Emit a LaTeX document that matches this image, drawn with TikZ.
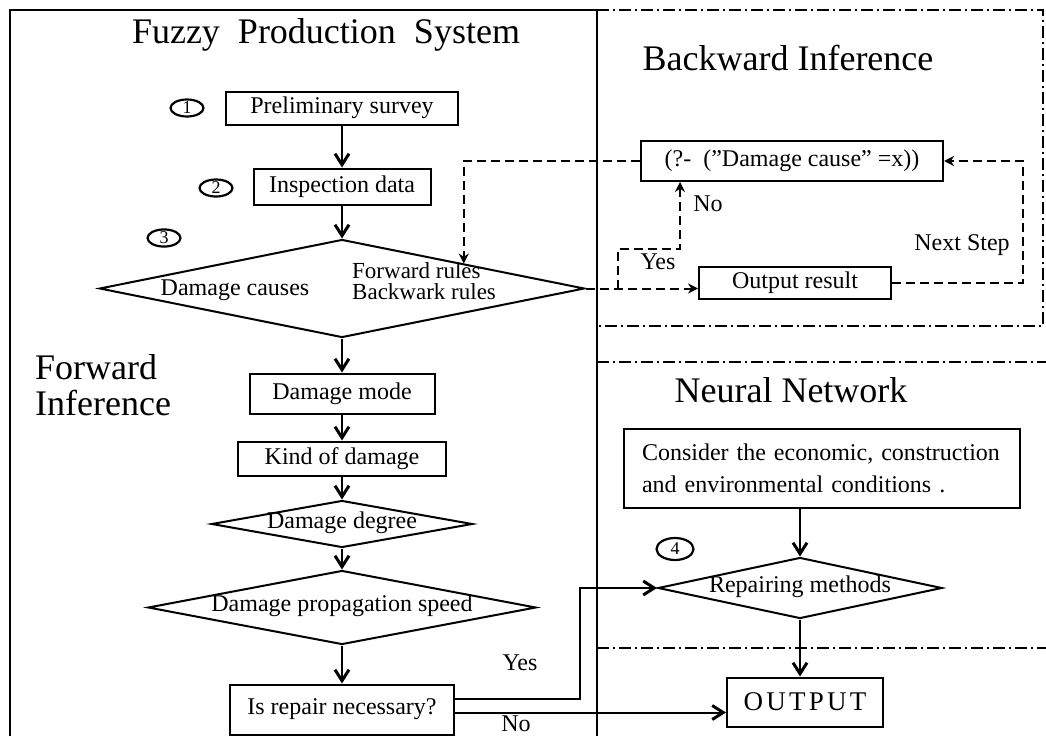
\documentclass[tikz,border=0pt]{standalone}
\usepackage{fontspec}
\setmainfont{Liberation Serif}
\usetikzlibrary{arrows.meta,positioning,shapes.geometric}
\tikzset{
  procbox/.style={
    draw=black,
    line width=2pt,
    align=center,
    inner sep=0pt,
    font=\fontsize{24}{26}\selectfont
  },
  decision/.style={
    draw=black,
    line width=2pt,
    diamond,
    aspect=5,
    inner sep=0pt,
    text height=12pt,
    text depth=4pt,
    font=\fontsize{24}{26}\selectfont
  },
  stepmark/.style={
    draw=black,
    line width=2.2pt,
    ellipse,
    inner sep=0pt,
    minimum width=33pt,
    minimum height=17pt,
    font=\fontsize{18}{18}\selectfont
  },
  bigtitle/.style={
    inner sep=0pt,
    font=\fontsize{36}{36}\selectfont
  },
  plaintext/.style={
    inner sep=0pt,
    font=\fontsize{24}{20}\selectfont
  },
  flow/.style={
    -{Straight Barb[length=11pt,width=14pt,line width=3pt]},
    line width=2pt
  },
  backflow/.style={
    -{Stealth[length=10pt,width=10pt]},
    line width=2pt,
    dash pattern=on 9pt off 5pt
  },
  panel/.style={
    line width=2.5pt
  },
  divider/.style={
    line width=1.8pt,
    dash pattern=on 12pt off 4pt on 2pt off 4pt
  }
}
\begin{document}
\begin{tikzpicture}[x=1pt,y=-1pt]
  \useasboundingbox (0,0) rectangle (1046,736);
  % frames
  \draw[panel] (10,736) -- (10,10) -- (597,10);
  \draw[panel] (597,10) -- (597,736);
  \draw[divider] (597,10) -- (1043,10) -- (1043,326) -- (597,326);
  \draw[divider] (597,362) -- (1046,362);
  \draw[divider] (597,648) -- (1046,648);
  % titles
  \node[bigtitle, anchor=base] (fpstitle) at (326,43) {Fuzzy\ \ Production\ \ System};
  \node[bigtitle, anchor=base] (bwtitle) at (788,70) {Backward Inference};
  \node[bigtitle, anchor=base] (nntitle) at (791,402) {Neural Network};
  \node[bigtitle, anchor=north west, align=left] (fwtitle) at (35,354) {Forward\\Inference};
  % forward chain
  \node[procbox, minimum width=232pt, minimum height=33pt] (prelim) at (342,108) {Preliminary survey};
  \node[procbox, minimum width=177pt, minimum height=36pt, below=42pt of prelim] (inspect) {Inspection data};
  \node[decision, minimum width=485pt, minimum height=98pt, below=33pt of inspect] (causes) {};
  \node[procbox, minimum width=185pt, minimum height=40pt, below=34pt of causes] (mode) {Damage mode};
  \node[procbox, minimum width=208pt, minimum height=34pt, below=26pt of mode] (kind) {Kind of damage};
  \node[decision, minimum width=261pt, minimum height=47pt, below=23pt of kind] (degree) {Damage degree};
  \node[decision, minimum width=388pt, minimum height=74pt, below=21pt of degree] (speed) {Damage propagation speed};
  \node[procbox, minimum width=224pt, minimum height=50pt, below=38pt of speed] (repair) {Is repair necessary?};
  \node[plaintext, anchor=base] (causestext) at (235,295) {Damage causes};
  \node[plaintext, anchor=north west, align=left, font=\fontsize{23}{21}\selectfont] (rulestext) at (352,262) {Forward rules\\Backwark rules};
  % step marks
  \node[stepmark] (s1) at (187,108) {1};
  \node[stepmark] (s2) at (216,188) {2};
  \node[stepmark] (s3) at (164,238) {3};
  \node[stepmark, minimum width=37pt, minimum height=22pt] (s4) at (675,549) {4};
  % backward inference
  \node[procbox, minimum width=302pt, minimum height=40pt] (query) at (792,161) {(?-\ \ ("Damage cause'' =x))};
  \node[procbox, minimum width=192pt, minimum height=32pt] (result) at (795,283) {Output result};
  \node[plaintext] (yesback) at (658,262) {Yes};
  \node[plaintext] (noback) at (708,204) {No};
  \node[plaintext] (nextstep) at (962,245) {Next Step};
  % neural network
  \node[procbox, text width=360pt, align=left, inner xsep=18pt, minimum height=79pt,
    font=\fontsize{24}{32}\selectfont] (consider) at (822,468)
    {Consider the economic, construction\\and environmental conditions .};
  \node[decision, minimum width=284pt, minimum height=61pt] (repairm) at (800,588) {Repairing methods};
  \node[procbox, minimum width=156pt, minimum height=49pt,
    font=\fontsize{27}{30}\selectfont\addfontfeature{LetterSpace=12}] (output) at (805,702) {OUTPUT};
  \node[plaintext] (yesfwd) at (520,663) {Yes};
  \node[plaintext] (nofwd) at (516,724) {No};
  % connectors
  \draw[flow] (prelim) -- (inspect);
  \draw[flow] (inspect) -- (causes);
  \draw[flow] (causes) -- (mode);
  \draw[flow] (mode) -- (kind);
  \draw[flow] (kind) -- (degree);
  \draw[flow] (degree) -- (speed);
  \draw[flow] (speed) -- (repair);
  \draw[flow] ([yshift=11pt]repair.east) -- ++(125,0) |- (repairm.west);
  \draw[flow] ([yshift=-3pt]repair.east) -- ([yshift=-3pt]repair.east -| output.west);
  \draw[flow] (consider.south -| repairm.north) -- (repairm.north);
  \draw[flow] (repairm.south) -- (repairm.south |- output.north);
  \draw[backflow] (query.west) -| (causes.north east);
  \draw[backflow] (causes.east) -- (causes.east -| result.west);
  \draw[backflow] ([xshift=32pt]causes.east) -- ++(0,-40) -| ([xshift=-112pt]query.south);
  \draw[backflow] (result.east) -- ++(131,0) |- (query.east);
\end{tikzpicture}
\end{document}
